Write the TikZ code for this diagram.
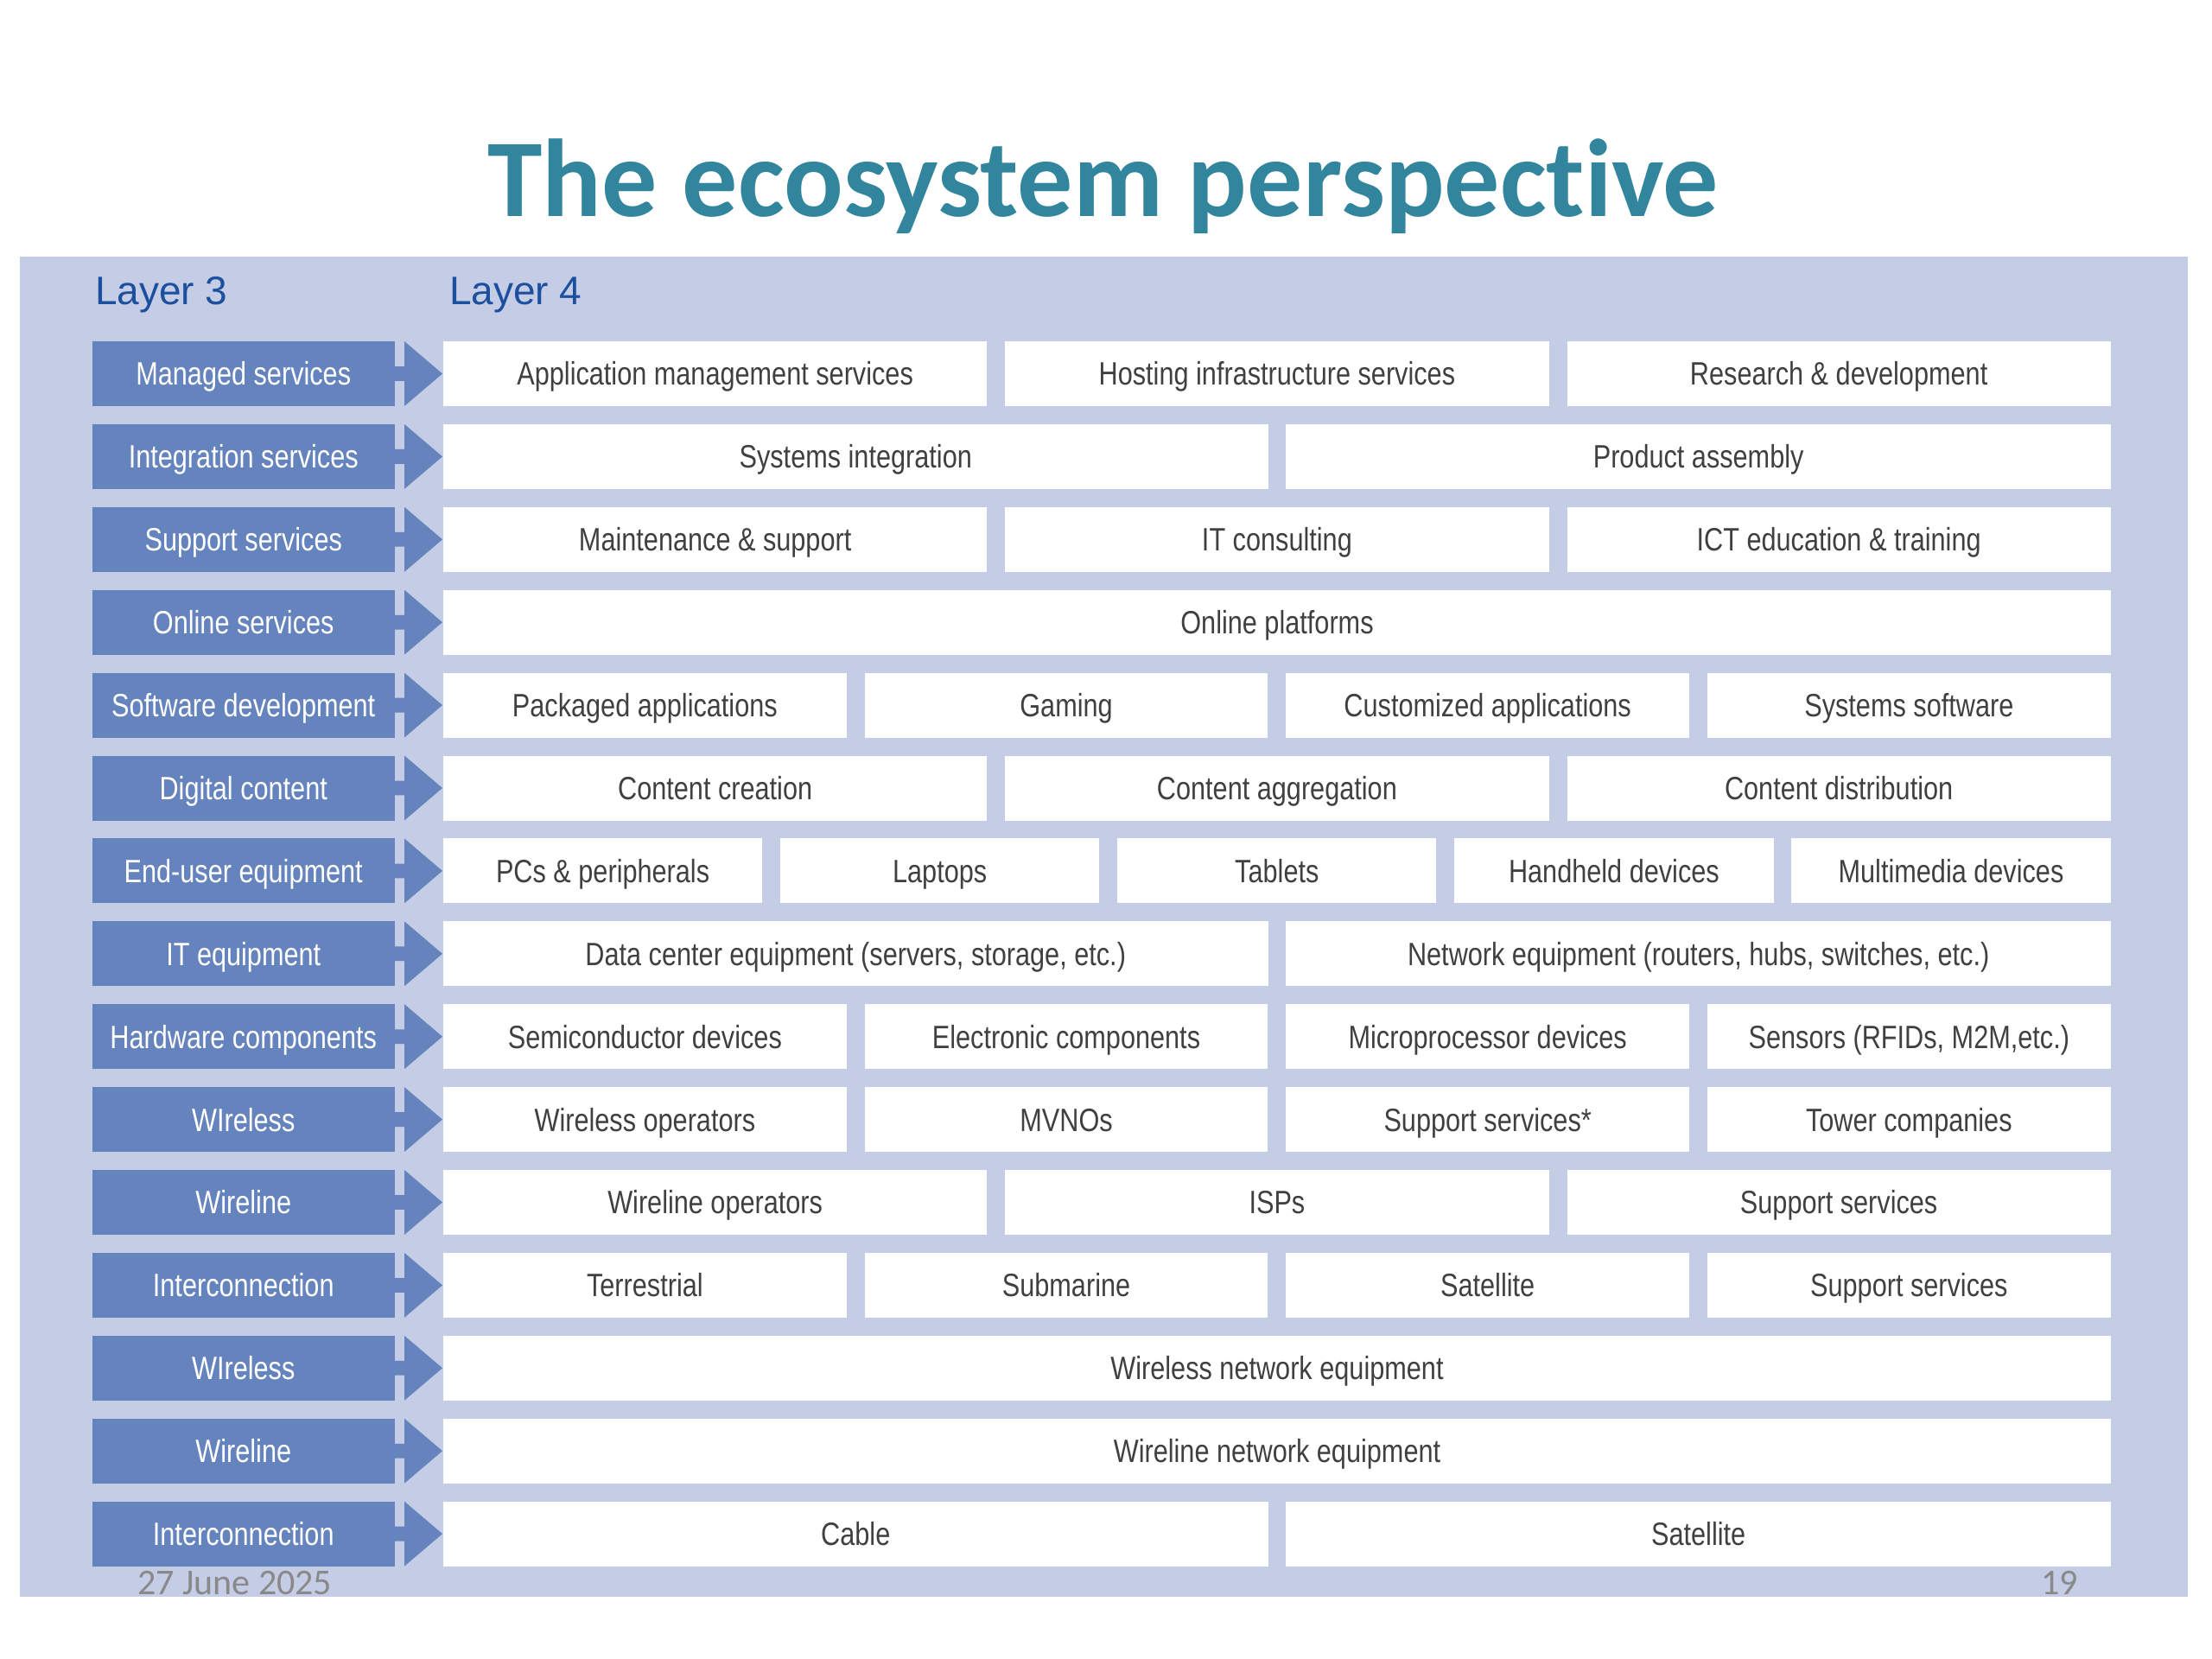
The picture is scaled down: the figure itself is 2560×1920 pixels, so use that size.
\documentclass[tikz,border=0pt]{standalone}
\usepackage{fontspec}
\setmainfont{Liberation Sans}
\newfontfamily\narrowfont[FakeStretch=0.82]{Liberation Sans}
\newfontfamily\titlefont[Ligatures=NoCommon]{Carlito}
\usepackage{tikz}
\usetikzlibrary{positioning}
\definecolor{panelblue}{RGB}{197,204,229}
\definecolor{layerblue}{RGB}{101,131,189}
\definecolor{layertext}{RGB}{28,80,158}
\definecolor{titleteal}{RGB}{49,133,156}
\definecolor{celltext}{RGB}{64,64,64}
\definecolor{footgray}{RGB}{137,137,137}
\tikzstyle{layerbox} = [rectangle, minimum width=175.25pt, minimum height=37.5pt, inner sep=0pt, outer sep=0pt, fill=layerblue, text=white, font=\narrowfont\fontsize{18.7pt}{20pt}\selectfont, text height=13.4pt, text depth=0pt]
\tikzstyle{cell} = [rectangle, minimum height=37.5pt, inner sep=0pt, outer sep=0pt, fill=white, text=celltext, font=\narrowfont\fontsize{18.7pt}{20pt}\selectfont, text height=13.4pt, text depth=0pt]
\tikzstyle{cellone} = [cell, minimum width=965pt]
\tikzstyle{celltwo} = [cell, minimum width=477.25pt]
\tikzstyle{cellthree} = [cell, minimum width=314.67pt]
\tikzstyle{cellfour} = [cell, minimum width=233.375pt]
\tikzstyle{cellfive} = [cell, minimum width=184.6pt]
\tikzstyle{layerhead} = [anchor=base west, text=layertext, font=\fontsize{23pt}{26pt}\selectfont]
\tikzstyle{foot} = [anchor=base west, text=footgray, font=\titlefont\fontsize{21pt}{24pt}\selectfont]
\tikzstyle{tabarrow} = [fill=layerblue]
% notched arrow between a layer 3 box and its layer 4 row
\newcommand{\layerarrow}[1]{%
\fill [tabarrow] ([yshift=4.2pt]#1.east) -- ([xshift=5.5pt,yshift=4.2pt]#1.east) -- ([xshift=5.5pt]#1.north east) -- ([xshift=27.5pt]#1.east) -- ([xshift=5.5pt]#1.south east) -- ([xshift=5.5pt,yshift=-4.2pt]#1.east) -- ([yshift=-4.2pt]#1.east) -- cycle;}

\begin{document}
\begin{tikzpicture}[x=0.5pt, y=-0.5pt, node distance=10.45pt]
\useasboundingbox [fill=white] (0,0) rectangle (2560,1920);
\fill [panelblue] (23,297) rectangle (2532,1848);

\node (title) [anchor=base, text=titleteal, font=\titlefont\bfseries\fontsize{64pt}{76pt}\selectfont] at (1277,251) {The ecosystem perspective};
\node (layer3) [layerhead] at (103,353) {Layer 3};
\node (layer4) [layerhead] at (513,353) {Layer 4};

% layer 3
\node (managed) [layerbox] at (281.75,432.5) {Managed services};
\node (integ) [layerbox, below=of managed] {Integration services};
\node (support) [layerbox, below=of integ] {Support services};
\node (online) [layerbox, below=of support] {Online services};
\node (software) [layerbox, below=of online] {Software development};
\node (digital) [layerbox, below=of software] {Digital content};
\node (enduser) [layerbox, below=of digital] {End-user equipment};
\node (itequip) [layerbox, below=of enduser] {IT equipment};
\node (hardware) [layerbox, below=of itequip] {Hardware components};
\node (wlessop) [layerbox, below=of hardware] {WIreless};
\node (wlineop) [layerbox, below=of wlessop] {Wireline};
\node (interop) [layerbox, below=of wlineop] {Interconnection};
\node (wlessnet) [layerbox, below=of interop] {WIreless};
\node (wlinenet) [layerbox, below=of wlessnet] {Wireline};
\node (internet) [layerbox, below=of wlinenet] {Interconnection};

% layer 4
\node (managed1) [cellthree, right=28pt of managed] {Application management services};
\node (managed2) [cellthree, right=of managed1] {Hosting infrastructure services};
\node (managed3) [cellthree, right=of managed2] {Research \& development};

\node (integ1) [celltwo, right=28pt of integ] {Systems integration};
\node (integ2) [celltwo, right=of integ1] {Product assembly};

\node (support1) [cellthree, right=28pt of support] {Maintenance \& support};
\node (support2) [cellthree, right=of support1] {IT consulting};
\node (support3) [cellthree, right=of support2] {ICT education \& training};

\node (online1) [cellone, right=28pt of online] {Online platforms};

\node (software1) [cellfour, right=28pt of software] {Packaged applications};
\node (software2) [cellfour, right=of software1] {Gaming};
\node (software3) [cellfour, right=of software2] {Customized applications};
\node (software4) [cellfour, right=of software3] {Systems software};

\node (digital1) [cellthree, right=28pt of digital] {Content creation};
\node (digital2) [cellthree, right=of digital1] {Content aggregation};
\node (digital3) [cellthree, right=of digital2] {Content distribution};

\node (enduser1) [cellfive, right=28pt of enduser] {PCs \& peripherals};
\node (enduser2) [cellfive, right=of enduser1] {Laptops};
\node (enduser3) [cellfive, right=of enduser2] {Tablets};
\node (enduser4) [cellfive, right=of enduser3] {Handheld devices};
\node (enduser5) [cellfive, right=of enduser4] {Multimedia devices};

\node (itequip1) [celltwo, right=28pt of itequip] {Data center equipment (servers, storage, etc.)};
\node (itequip2) [celltwo, right=of itequip1] {Network equipment (routers, hubs, switches, etc.)};

\node (hardware1) [cellfour, right=28pt of hardware] {Semiconductor devices};
\node (hardware2) [cellfour, right=of hardware1] {Electronic components};
\node (hardware3) [cellfour, right=of hardware2] {Microprocessor devices};
\node (hardware4) [cellfour, right=of hardware3] {Sensors (RFIDs, M2M,etc.)};

\node (wlessop1) [cellfour, right=28pt of wlessop] {Wireless operators};
\node (wlessop2) [cellfour, right=of wlessop1] {MVNOs};
\node (wlessop3) [cellfour, right=of wlessop2] {Support services*};
\node (wlessop4) [cellfour, right=of wlessop3] {Tower companies};

\node (wlineop1) [cellthree, right=28pt of wlineop] {Wireline operators};
\node (wlineop2) [cellthree, right=of wlineop1] {ISPs};
\node (wlineop3) [cellthree, right=of wlineop2] {Support services};

\node (interop1) [cellfour, right=28pt of interop] {Terrestrial};
\node (interop2) [cellfour, right=of interop1] {Submarine};
\node (interop3) [cellfour, right=of interop2] {Satellite};
\node (interop4) [cellfour, right=of interop3] {Support services};

\node (wlessnet1) [cellone, right=28pt of wlessnet] {Wireless network equipment};
\node (wlinenet1) [cellone, right=28pt of wlinenet] {Wireline network equipment};

\node (internet1) [celltwo, right=28pt of internet] {Cable};
\node (internet2) [celltwo, right=of internet1] {Satellite};

% arrows
\layerarrow{managed}
\layerarrow{integ}
\layerarrow{support}
\layerarrow{online}
\layerarrow{software}
\layerarrow{digital}
\layerarrow{enduser}
\layerarrow{itequip}
\layerarrow{hardware}
\layerarrow{wlessop}
\layerarrow{wlineop}
\layerarrow{interop}
\layerarrow{wlessnet}
\layerarrow{wlinenet}
\layerarrow{internet}

\node (date) [foot] at (152,1845) {27 June 2025};
\node (page) [foot] at (2355,1845) {19};
\end{tikzpicture}
\end{document}
